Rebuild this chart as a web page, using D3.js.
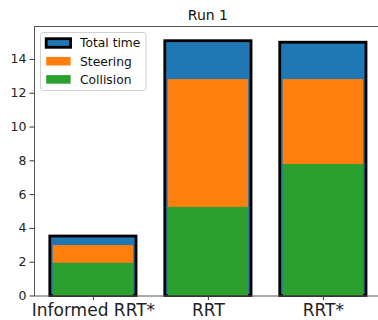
<!DOCTYPE html>
<html>
<head>
<meta charset="utf-8">
<script src="https://cdn.jsdelivr.net/npm/d3@7"></script>
<style>
  body { margin: 0; background: #fff; }
  svg { display: block; font-family: "DejaVu Sans", sans-serif; }
</style>
</head>
<body>
<svg id="chart" width="378" height="320"></svg>
<script>
// data
var categories = ["Informed RRT*", "RRT", "RRT*"];
var totalTime = [3.52, 15.08, 14.99];
var collision = [1.93, 5.24, 7.78];
var steering = [1.06, 7.57, 5.03];   // stacked on top of collision
var yTicks = [0, 2, 4, 6, 8, 10, 12, 14];
var legendLabels = ["Total time", "Steering", "Collision"];

var colors = {total: "#1f77b4", steering: "#ff7f0e", collision: "#2ca02c"};

var svg = d3.select("#chart");

// axes box (right spine falls just outside the window)
var axLeft = 34, axTop = 26, axBottom = 295.5, axRight = 381.8;

var x = d3.scaleLinear().domain([-0.5125, 2.5125]).range([axLeft, axRight]);
var y = d3.scaleLinear().domain([0, 15.95]).range([axBottom, axTop]);

var unit = x(1) - x(0);
var totalW = 0.75 * unit;
var innerW = 0.70 * unit;

var g_bars = svg.append("g").attr("class", "bars");

// total time bars with black edge
g_bars.selectAll("rect.total")
    .data(totalTime)
    .enter().append("rect")
    .attr("class", "total")
    .attr("x", function(d, i){ return x(i) - totalW / 2; })
    .attr("y", function(d){ return y(d); })
    .attr("width", totalW)
    .attr("height", function(d){ return y(0) - y(d); })
    .attr("fill", colors.total)
    .attr("stroke", "#000")
    .attr("stroke-width", 2.8);

// steering bars
g_bars.selectAll("rect.steering")
    .data(steering)
    .enter().append("rect")
    .attr("class", "steering")
    .attr("x", function(d, i){ return x(i) - innerW / 2; })
    .attr("y", function(d, i){ return y(collision[i] + d); })
    .attr("width", innerW)
    .attr("height", function(d){ return y(0) - y(d); })
    .attr("fill", colors.steering);

// collision bars
g_bars.selectAll("rect.collision")
    .data(collision)
    .enter().append("rect")
    .attr("class", "collision")
    .attr("x", function(d, i){ return x(i) - innerW / 2; })
    .attr("y", function(d){ return y(d); })
    .attr("width", innerW)
    .attr("height", function(d){ return y(0) - y(d); })
    .attr("fill", colors.collision);

// axes
var yAxis = d3.axisLeft(y).tickValues(yTicks).tickSize(4.5).tickPadding(3);
var gy = svg.append("g")
    .attr("transform", "translate(" + axLeft + ",0)")
    .call(yAxis);
gy.select(".domain").remove();
gy.selectAll("text").attr("font-size", "12.5px").attr("fill", "#222")
    .attr("font-family", "DejaVu Sans, sans-serif");
gy.selectAll("line").attr("stroke", "#333");

var xAxis = d3.axisBottom(x).tickValues([0, 1, 2])
    .tickFormat(function(d){ return categories[d]; })
    .tickSize(4.5).tickPadding(3.5);
var gx = svg.append("g")
    .attr("transform", "translate(0," + axBottom + ")")
    .call(xAxis);
gx.select(".domain").remove();
gx.selectAll("text").attr("font-size", "17px").attr("fill", "#222")
    .attr("font-family", "DejaVu Sans, sans-serif");
gx.selectAll("line").attr("stroke", "#333");

// spines
svg.append("rect")
    .attr("x", axLeft + 0.5)
    .attr("y", axTop + 0.5)
    .attr("width", axRight - axLeft)
    .attr("height", axBottom - axTop)
    .attr("fill", "none")
    .attr("stroke", "#555")
    .attr("stroke-width", 1);

// title
svg.append("text")
    .attr("x", (axLeft + axRight) / 2)
    .attr("y", 19.5)
    .attr("text-anchor", "middle")
    .attr("font-size", "14px")
    .attr("fill", "#111")
    .text("Run 1");

// legend
var legend = svg.append("g").attr("class", "legend");
legend.append("rect")
    .attr("x", 40.5).attr("y", 32.5)
    .attr("width", 105.5).attr("height", 58)
    .attr("rx", 3)
    .attr("fill", "#fff").attr("fill-opacity", 0.8)
    .attr("stroke", "#d0d0d0");

var legendColors = [colors.total, colors.steering, colors.collision];
var rows = legend.selectAll("g.row")
    .data(legendLabels)
    .enter().append("g")
    .attr("class", "row")
    .attr("transform", function(d, i){ return "translate(0," + (43 + i * 18.2) + ")"; });

rows.append("rect")
    .attr("x", 46.2)
    .attr("y", -4.3)
    .attr("width", 24.4)
    .attr("height", 8.6)
    .attr("fill", function(d, i){ return legendColors[i]; })
    .attr("stroke", function(d, i){ return i === 0 ? "#000" : "none"; })
    .attr("stroke-width", 2.8);

rows.append("text")
    .attr("x", 80)
    .attr("dy", "0.35em")
    .attr("font-size", "12.3px")
    .attr("fill", "#111")
    .text(function(d){ return d; });
</script>
</body>
</html>
